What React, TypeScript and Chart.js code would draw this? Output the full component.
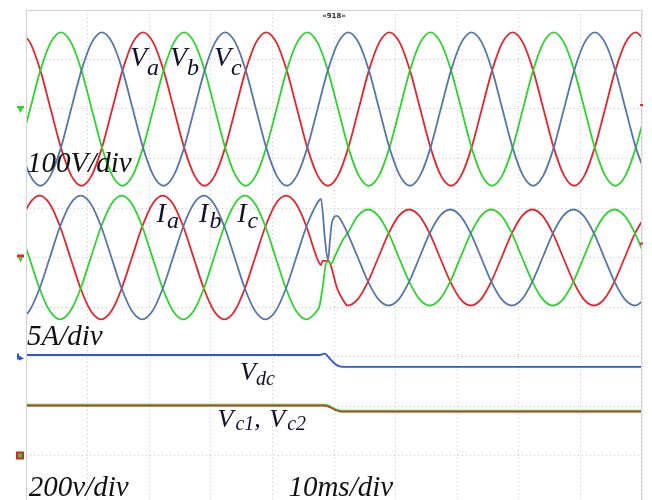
import React, { useEffect, useRef } from 'react';
import { Chart, registerables } from 'chart.js';

Chart.register(...registerables);

// ---- Scope settings ----
const TIME_PER_DIV = 10; // ms/div
const V_PER_DIV = 100; // V/div (phase voltages)
const I_PER_DIV = 5; // A/div (phase currents)
const DC_PER_DIV = 200; // V/div (dc link)
const V_GROUND = 8; // channel ground, divisions from bottom
const I_GROUND = 5;
const DC_GROUND = 1;

// ---- Phase voltages (ms, V) ----
const TIME_V = [
  -1.0, 0.67, 2.33, 4.0, 5.67, 7.33, 9.0, 10.67, 12.33, 14.0, 15.67, 17.33,
  19.0, 20.67, 22.33, 24.0, 25.67, 27.33, 29.0, 30.67, 32.33, 34.0, 35.67, 37.33,
  39.0, 40.67, 42.33, 44.0, 45.67, 47.33, 49.0, 50.67, 52.33, 54.0, 55.67, 57.33,
  59.0, 60.67, 62.33, 64.0, 65.67, 67.33, 69.0, 70.67, 72.33, 74.0, 75.67, 77.33,
  79.0, 80.67, 82.33, 84.0, 85.67, 87.33, 89.0, 90.67, 92.33, 94.0, 95.67, 97.33,
  99.0, 100.67,
];
const VA = [
  155, 134, 78, 0, -78, -134, -155, -134, -78, 0, 78, 134,
  155, 134, 78, 0, -78, -134, -155, -134, -78, 0, 78, 134,
  155, 134, 78, 0, -78, -134, -155, -134, -78, 0, 78, 134,
  155, 134, 78, 0, -78, -134, -155, -134, -78, 0, 78, 134,
  155, 134, 78, 0, -78, -134, -155, -134, -78, 0, 78, 134,
  155, 134,
];
const VB = [
  -78, 0, 78, 134, 155, 134, 78, 0, -78, -134, -155, -134,
  -78, 0, 78, 134, 155, 134, 78, 0, -78, -134, -155, -134,
  -78, 0, 78, 134, 155, 134, 78, 0, -78, -134, -155, -134,
  -78, 0, 78, 134, 155, 134, 78, 0, -78, -134, -155, -134,
  -78, 0, 78, 134, 155, 134, 78, 0, -78, -134, -155, -134,
  -78, 0,
];
const VC = [
  -78, -134, -155, -134, -78, 0, 78, 134, 155, 134, 78, 0,
  -78, -134, -155, -134, -78, 0, 78, 134, 155, 134, 78, 0,
  -78, -134, -155, -134, -78, 0, 78, 134, 155, 134, 78, 0,
  -78, -134, -155, -134, -78, 0, 78, 134, 155, 134, 78, 0,
  -78, -134, -155, -134, -78, 0, 78, 134, 155, 134, 78, 0,
  -78, -134,
];

// ---- Phase currents (ms, A) ----
const TIME_I_PRE = [
  -1.13, 0.53, 2.2, 3.87, 5.53, 7.2, 8.87, 10.53, 12.2, 13.87, 15.53, 17.2,
  18.87, 20.53, 22.2, 23.87, 25.53, 27.2, 28.87, 30.53, 32.2, 33.87, 35.53, 37.2,
  38.87, 40.53, 42.2, 43.87, 45.53, 47.2,
];
const TIME_I_POST = [
  52.2, 53.87, 55.53, 57.2, 58.87, 60.53, 62.2, 63.87, 65.53, 67.2, 68.87, 70.53,
  72.2, 73.87, 75.53, 77.2, 78.87, 80.53, 82.2, 83.87, 85.53, 87.2, 88.87, 90.53,
  92.2, 93.87, 95.53, 97.2, 98.87, 100.53,
];
const IA_PRE = [
  3.13, 5.41, 6.25, 5.41, 3.13, 0, -3.13, -5.41, -6.25, -5.41, -3.13, 0,
  3.13, 5.41, 6.25, 5.41, 3.13, 0, -3.13, -5.41, -6.25, -5.41, -3.13, 0,
  3.13, 5.41, 6.25, 5.41, 3.13, 0,
];
const IB_PRE = [
  -6.25, -5.41, -3.13, 0, 3.13, 5.41, 6.25, 5.41, 3.13, 0, -3.13, -5.41,
  -6.25, -5.41, -3.13, 0, 3.13, 5.41, 6.25, 5.41, 3.13, 0, -3.13, -5.41,
  -6.25, -5.41, -3.13, 0, 3.13, 5.41,
];
const IC_PRE = [
  3.13, 0, -3.13, -5.41, -6.25, -5.41, -3.13, 0, 3.13, 5.41, 6.25, 5.41,
  3.13, 0, -3.13, -5.41, -6.25, -5.41, -3.13, 0, 3.13, 5.41, 6.25, 5.41,
  3.13, 0, -3.13, -5.41, -6.25, -5.41,
];
// transient around the switching event
const IA_TR_T = [47.89, 48.13, 49.11, 49.51, 50.49, 51.46];
const IA_TR = [-0.76, -0.35, -0.35, -0.86, -3.08, -4.29];
const IB_TR_T = [47.89, 48.54, 49.03, 49.35, 49.68, 50.49, 51.46];
const IB_TR = [5.91, 1.77, -0.25, 1.77, 3.59, 4.2, 3.4];
const IC_TR_T = [47.65, 48.21, 48.78, 49.19, 49.51, 50.16, 51.46];
const IC_TR = [-4.9, -2.78, -0.45, -0.45, -0.66, 0.15, 1.8];
const IA_POST = [
  -4.85, -4.2, -2.43, 0, 2.43, 4.2, 4.85, 4.2, 2.43, 0, -2.43, -4.2,
  -4.85, -4.2, -2.43, 0, 2.43, 4.2, 4.85, 4.2, 2.43, 0, -2.43, -4.2,
  -4.85, -4.2, -2.43, 0, 2.43, 4.2,
];
const IB_POST = [
  2.43, 0, -2.43, -4.2, -4.85, -4.2, -2.43, 0, 2.43, 4.2, 4.85, 4.2,
  2.43, 0, -2.43, -4.2, -4.85, -4.2, -2.43, 0, 2.43, 4.2, 4.85, 4.2,
  2.43, 0, -2.43, -4.2, -4.85, -4.2,
];
const IC_POST = [
  2.43, 4.2, 4.85, 4.2, 2.43, 0, -2.43, -4.2, -4.85, -4.2, -2.43, 0,
  2.43, 4.2, 4.85, 4.2, 2.43, 0, -2.43, -4.2, -4.85, -4.2, -2.43, 0,
  2.43, 4.2, 4.85, 4.2, 2.43, 0,
];

// ---- DC link (ms, V) ----
const VDC_T = [0, 47.7, 48.2, 48.5, 48.9, 49.5, 50.2, 50.8, 51.5, 100];
const VDC = [406, 406, 410, 412, 404, 386, 370, 361, 358, 358];
const VCAP_T = [0, 48.4, 48.9, 49.6, 50.3, 50.9, 51.5, 100];
const VC1 = [204, 204, 202, 194, 185, 181, 180, 180];
const VC2 = [201, 201, 199, 191, 182, 178, 177, 177];

// ---- helpers ----
const pts = (t: number[], v: number[], perDiv: number, ground: number) =>
  t.map((x, i) => ({ x, y: ground + v[i] / perDiv }));

const joinI = (pre: number[], trT: number[], tr: number[], post: number[]) => [
  ...pts(TIME_I_PRE, pre, I_PER_DIV, I_GROUND),
  ...pts(trT, tr, I_PER_DIV, I_GROUND),
  ...pts(TIME_I_POST, post, I_PER_DIV, I_GROUND),
];

const RED = '#e3262e';
const GREEN = '#2ed42e';
const STEEL = '#5677a8';
const DCBLUE = '#2a58d6';

const FONT = '"Liberation Serif", "Times New Roman", serif';
const INK = '#10102a';

function drawSub(
  ctx: CanvasRenderingContext2D,
  x: number,
  y: number,
  main: string,
  sub: string,
  mainSize: number,
  subSize: number,
  dy: number,
  gap = 0
) {
  ctx.font = `italic ${mainSize}px ${FONT}`;
  ctx.fillText(main, x, y);
  const w = ctx.measureText(main).width;
  ctx.font = `italic ${subSize}px ${FONT}`;
  ctx.fillText(sub, x + w + gap, y + dy);
  return x + w + gap + ctx.measureText(sub).width;
}

const overlay = {
  id: 'scopeOverlay',
  afterDraw(chart: any) {
    const { ctx, chartArea: a } = chart;
    const xs = chart.scales.x;
    const ys = chart.scales.y;
    const X = (t: number) => xs.getPixelForValue(t);
    const Y = (v: number) => ys.getPixelForValue(v);
    ctx.save();

    // frame
    ctx.strokeStyle = '#d4d4d4';
    ctx.lineWidth = 1;
    ctx.setLineDash([]);
    ctx.beginPath();
    ctx.moveTo(Math.round(a.left) + 0.5, a.bottom);
    ctx.lineTo(Math.round(a.left) + 0.5, Math.round(a.top) + 0.5);
    ctx.lineTo(Math.round(a.right) - 0.5, Math.round(a.top) + 0.5);
    ctx.lineTo(Math.round(a.right) - 0.5, a.bottom);
    ctx.stroke();

    // channel ground markers
    const mx = a.left - 8;
    let y = Y(V_GROUND);
    ctx.fillStyle = GREEN;
    ctx.fillRect(mx - 1, y - 3, 7, 2);
    ctx.beginPath();
    ctx.moveTo(mx, y - 1); ctx.lineTo(mx + 5, y - 1); ctx.lineTo(mx + 2.5, y + 4); ctx.closePath();
    ctx.fill();

    y = Y(I_GROUND);
    ctx.fillStyle = RED;
    ctx.fillRect(mx - 1, y - 3, 7, 3);
    ctx.fillStyle = GREEN;
    ctx.beginPath();
    ctx.moveTo(mx, y); ctx.lineTo(mx + 5, y); ctx.lineTo(mx + 2.5, y + 5); ctx.closePath();
    ctx.fill();

    y = Y(3);
    ctx.fillStyle = DCBLUE;
    ctx.fillRect(mx - 1, y - 3, 2, 6);
    ctx.beginPath();
    ctx.moveTo(mx + 1, y - 1); ctx.lineTo(mx + 6, y + 2); ctx.lineTo(mx + 1, y + 4); ctx.closePath();
    ctx.fill();

    y = Y(DC_GROUND);
    ctx.fillStyle = '#d8232a';
    ctx.fillRect(mx - 2, y - 4, 8, 8);
    ctx.fillStyle = GREEN;
    ctx.fillRect(mx, y - 2, 4, 4);

    // trigger level ticks on the right
    ctx.fillStyle = RED;
    ctx.fillRect(a.right - 2, Y(8.08) - 1, 3, 2);
    ctx.fillRect(a.right - 2, Y(5.28) - 1, 3, 2);

    // trigger position marker
    ctx.fillStyle = '#333';
    ctx.font = 'bold 7px "DejaVu Sans", sans-serif';
    ctx.textAlign = 'center';
    ctx.textBaseline = 'middle';
    ctx.fillText('«918»', X(50), a.top + 6);

    // labels
    ctx.textAlign = 'left';
    ctx.textBaseline = 'alphabetic';
    ctx.fillStyle = INK;
    drawSub(ctx, X(16.88), Y(8.87), 'V', 'a', 28, 24, 9);
    drawSub(ctx, X(23.38), Y(8.87), 'V', 'b', 28, 24, 9);
    drawSub(ctx, X(30.52), Y(8.87), 'V', 'c', 28, 24, 9);

    drawSub(ctx, X(21.2), Y(5.717), 'I', 'a', 28, 24, 6, 1);
    drawSub(ctx, X(28.1), Y(5.717), 'I', 'b', 28, 24, 6, 1);
    drawSub(ctx, X(34.3), Y(5.717), 'I', 'c', 28, 24, 6, 1);

    drawSub(ctx, X(34.74), Y(2.525), 'V', 'dc', 26, 20, 5);
    let nx = drawSub(ctx, X(31.1), Y(1.576), 'V', 'c1', 26, 20, 3, 2);
    ctx.font = `italic 26px ${FONT}`;
    ctx.fillText(',', nx, Y(1.576));
    drawSub(ctx, X(39.5), Y(1.576), 'V', 'c2', 26, 20, 3, 2);

    ctx.fillStyle = '#111';
    ctx.font = `italic 29px ${FONT}`;
    ctx.fillText('100V/div', a.left + 1, Y(6.727));
    ctx.fillText('5A/div', a.left + 1, Y(3.232));
    ctx.fillText('200v/div', X(0.45), Y(0.182));
    ctx.fillText('10ms/div', X(42.6), Y(0.182));

    ctx.restore();
  },
};

export default function App() {
  const ref = useRef<HTMLCanvasElement | null>(null);

  useEffect(() => {
    if (!ref.current) return;
    const line = (data: any[], color: string, width = 1.8) => ({
      data,
      borderColor: color,
      backgroundColor: color,
      borderWidth: width,
      pointRadius: 0,
      fill: false,
      cubicInterpolationMode: 'monotone' as const,
      clip: 0,
    });

    const chart = new Chart(ref.current, {
      type: 'line',
      data: {
        datasets: [
          line(pts(TIME_V, VC, V_PER_DIV, V_GROUND), STEEL),
          line(pts(TIME_V, VB, V_PER_DIV, V_GROUND), GREEN),
          line(pts(TIME_V, VA, V_PER_DIV, V_GROUND), RED),
          line(joinI(IB_PRE, IB_TR_T, IB_TR, IB_POST), STEEL),
          line(joinI(IC_PRE, IC_TR_T, IC_TR, IC_POST), GREEN),
          line(joinI(IA_PRE, IA_TR_T, IA_TR, IA_POST), RED),
          line(pts(VDC_T, VDC, DC_PER_DIV, DC_GROUND), DCBLUE, 1.8),
          line(pts(VCAP_T, VC2, DC_PER_DIV, DC_GROUND), RED, 1.4),
          line(pts(VCAP_T, VC1, DC_PER_DIV, DC_GROUND), GREEN, 2.4),
        ],
      },
      options: {
        animation: false,
        responsive: false,
        events: [],
        layout: { padding: { left: 26, top: 10, right: 10, bottom: 0 } },
        plugins: { legend: { display: false }, tooltip: { enabled: false } },
        scales: {
          x: {
            type: 'linear',
            min: 0,
            max: 10 * TIME_PER_DIV,
            ticks: { display: false, stepSize: TIME_PER_DIV },
            grid: { color: '#c8c8c8', drawTicks: false, lineWidth: 1 },
            border: { display: false, dash: [1, 3] },
            afterFit: (s: any) => { s.height = 0; },
          },
          y: {
            type: 'linear',
            min: 0,
            max: 10,
            ticks: { display: false, stepSize: 1 },
            grid: { color: '#c8c8c8', drawTicks: false, lineWidth: 1 },
            border: { display: false, dash: [1, 3] },
            afterFit: (s: any) => { s.width = 0; },
          },
        },
      },
      plugins: [overlay],
    });
    return () => chart.destroy();
  }, []);

  return (
    <div
      style={{
        position: 'fixed',
        left: 0,
        top: 0,
        width: 652,
        height: 500,
        overflow: 'hidden',
        background: '#fff',
      }}
    >
      <canvas ref={ref} width={652} height={505} style={{ display: 'block' }} />
    </div>
  );
}
